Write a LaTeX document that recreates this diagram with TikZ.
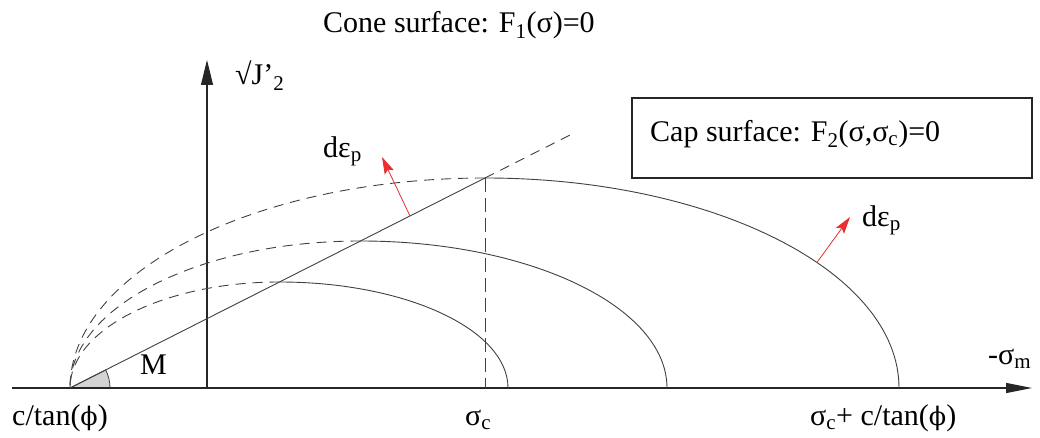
\documentclass[tikz,border=0pt]{standalone}
\usepackage{fontspec}
\setmainfont{Liberation Serif}
\newfontfamily\phifont{DejaVu Serif}[Scale=0.85]
\usetikzlibrary{arrows.meta}
\newcommand\phisym{{\phifont ϕ}}
\newcommand\sbs[1]{\textsubscript{#1}}
\definecolor{redarrow}{RGB}{232,48,48}
\begin{document}
\begin{tikzpicture}[x=1pt,y=1pt,
  lbl/.style={font=\fontsize{30}{36}\selectfont, inner sep=0pt, text=black, anchor=base west},
  curve/.style={draw=black!75, line width=0.9pt},
  dcurve/.style={curve, dash pattern=on 10pt off 7pt},
  vdash/.style={curve, dash pattern=on 14pt off 6pt},
  axis/.style={draw=black!85, line width=1.1pt},
  redline/.style={draw=redarrow, line width=0.8pt, -{Stealth[length=17pt,width=10pt,inset=3pt]}}]
\useasboundingbox (0,0) rectangle (1040,438);
% axes
\coordinate (xs) at (12,50);
\coordinate (xe) at (1032,50);
\coordinate (ys) at (207,50);
\coordinate (ye) at (207,378);
\coordinate (O) at (70,50);
\coordinate (S) at (485,50);
% angle
\filldraw[fill=black!17, draw=black!75, line width=0.8pt] (O) -- ++(40,0) arc[start angle=0,end angle=26.84,radius=40] -- cycle;
\draw[axis,-{Triangle[length=26pt,width=10pt]}] (xs) -- (xe);
\draw[axis,-{Triangle[length=25pt,width=12pt]}] (ys) -- (ye);
% caps
\coordinate (T1) at (279.5,156);
\coordinate (T2) at (360.5,197);
\coordinate (T3) at (485,260);
\coordinate (CE) at (575,305.5);
\draw[curve] (O) -- (T3);
\draw[dcurve] (T3) -- (CE);
\draw[curve] (T1) arc[start angle=90,end angle=0,x radius=228.5,y radius=106];
\draw[dcurve] (T1) arc[start angle=90,end angle=180,x radius=209.5,y radius=106];
\draw[curve] (T2) arc[start angle=90,end angle=0,x radius=306.5,y radius=147];
\draw[dcurve] (T2) arc[start angle=90,end angle=180,x radius=290.5,y radius=147];
\draw[curve] (T3) arc[start angle=90,end angle=0,x radius=414,y radius=210];
\draw[dcurve] (T3) arc[start angle=90,end angle=180,x radius=415,y radius=210];
\draw[vdash] (T3) -- (S);
% normals
\coordinate (N1s) at (410,222);
\coordinate (N1e) at (382,281);
\coordinate (N2s) at (816.9,175.5);
\coordinate (N2e) at (850,221);
\draw[redline] (N1s) -- (N1e);
\draw[redline] (N2s) -- (N2e);
% box
\node[draw=black!85, line width=1.1pt, minimum width=400pt, minimum height=80pt, inner sep=0pt] (capbox) at (832,300) {};
% labels
\node[lbl] (cone) at (323,405) {Cone surface: F\sbs{1}(σ)=0};
\node[lbl] (captext) at (650,296) {Cap surface: F\sbs{2}(σ,σ\sbs{c})=0};
\node[lbl] (ylab) at (235,353) {√J’\sbs{2}};
\node[lbl] (de1) at (323,280) {dε\sbs{p}};
\node[lbl] (de2) at (862,211) {dε\sbs{p}};
\node[lbl] (M) at (140,63) {M};
\node[lbl] (lo) at (12,12) {c/tan(\phisym)};
\node[lbl] (lsc) at (465,12) {σ\sbs{c}};
\node[lbl] (lend) at (810,12) {σ\sbs{c}+ c/tan(\phisym)};
\node[lbl] (lx) at (988,73) {-σ\sbs{m}};
\end{tikzpicture}
\end{document}
